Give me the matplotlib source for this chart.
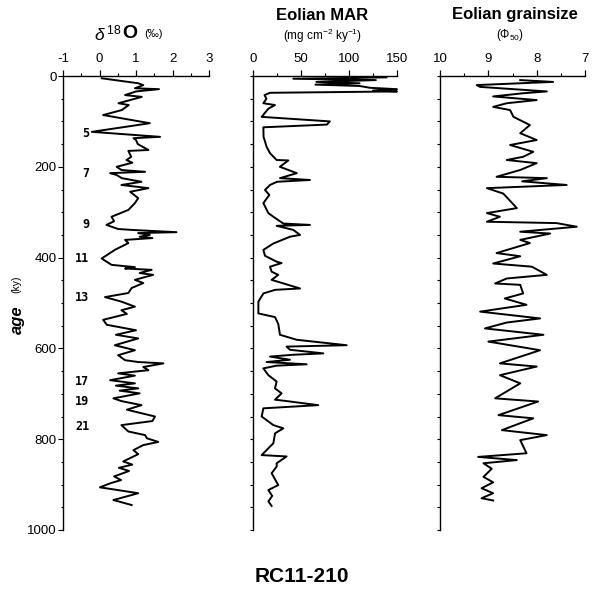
import matplotlib
matplotlib.use('Agg')
import matplotlib.pyplot as plt
from matplotlib.ticker import MultipleLocator

plt.rcParams['font.family'] = ['Liberation Sans', 'DejaVu Sans']
plt.rcParams['mathtext.fontset'] = 'custom'
plt.rcParams['mathtext.rm'] = 'Liberation Sans'
plt.rcParams['mathtext.bf'] = 'Liberation Sans:bold'
plt.rcParams['mathtext.it'] = 'Liberation Sans:italic'
plt.rcParams['axes.unicode_minus'] = False

# oxygen isotope record, age (ky) vs d18O (permil)
d18o_age = [5, 16, 20, 27, 29, 34, 42, 46, 60, 64, 75, 86, 104, 123, 134, 137, 141, 150,
            163, 165, 178, 185, 191, 200, 207, 211, 214, 218, 225, 233, 240, 247, 255, 269,
            280, 295, 310, 320, 328, 337, 339, 344, 346, 350, 354, 357, 361, 368, 383, 402,
            416, 421, 424, 427, 434, 438, 449, 456, 467, 478, 487, 497, 508, 516, 524, 537,
            548, 560, 570, 578, 593, 604, 615, 626, 630, 633, 641, 648, 655, 660, 670, 677,
            682, 688, 693, 699, 710, 716, 725, 735, 750, 760, 769, 783, 791, 798, 806, 813,
            824, 833, 849, 856, 863, 870, 882, 890, 897, 906, 912, 919, 934, 945]
d18o_val = [0.06, 1.06, 1.2, 0.97, 1.63, 1.0, 0.70, 1.16, 0.52, 0.8, 0.61, 0.10, 1.38, -0.21,
            1.66, 0.93, 1.0, 1.05, 1.34, 0.79, 0.87, 0.74, 0.9, 0.47, 0.6, 1.25, 0.29, 0.47,
            0.61, 1.15, 0.6, 1.34, 0.84, 1.06, 0.97, 0.79, 0.33, 0.4, 0.19, 0.51, 0.88, 2.11,
            1.06, 1.38, 1.1, 1.45, 0.7, 0.79, 0.42, 0.06, 0.33, 0.97, 0.70, 1.43, 1.1, 1.47,
            0.97, 1.2, 0.88, 0.79, 0.15, 0.6, 0.97, 0.6, 0.75, 0.10, 0.2, 1.0, 0.45, 1.06,
            0.42, 0.97, 0.51, 0.7, 1.06, 1.75, 1.2, 1.34, 0.51, 0.97, 0.29, 0.97, 0.45, 1.06,
            0.55, 1.1, 0.38, 0.6, 1.15, 0.75, 1.52, 1.45, 0.6, 0.79, 1.25, 1.3, 1.61, 1.2,
            0.93, 1.06, 0.65, 0.9, 0.53, 0.81, 0.40, 0.59, 0.3, 0.01, 0.5, 1.06, 0.38, 0.88]

# eolian mass accumulation rate
mar_age = [3, 6, 9, 13, 16, 19, 22, 26, 29, 32, 34, 37, 42, 50, 60, 64, 72, 90, 100, 107,
           113, 134, 156, 170, 185, 186, 200, 214, 225, 229, 233, 240, 251, 262, 280, 302,
           310, 325, 328, 330, 339, 350, 354, 369, 383, 396, 409, 412, 420, 431, 438, 449,
           468, 471, 479, 497, 523, 531, 546, 570, 581, 593, 596, 603, 611, 614, 618, 625,
           630, 635, 638, 644, 659, 673, 688, 699, 713, 716, 725, 732, 750, 769, 776, 787,
           809, 820, 835, 838, 853, 860, 875, 901, 912, 925, 937, 947]
mar_val = [139, 42, 128, 66, 111, 65, 111, 122, 150, 125, 150, 17.7, 12, 14, 10.8, 22.9, 16,
           9, 80, 77, 10.8, 11, 14.2, 17.7, 24.6, 36.8, 28, 45.6, 28.1, 59.4, 25, 17.7, 12.5,
           17, 10.8, 16, 21.2, 31.6, 59.4, 24.6, 42, 49, 38.5, 21.2, 10.8, 12.5, 24.6, 29.8,
           17.7, 19.4, 26.3, 19.4, 49, 23, 10.8, 5.6, 5.6, 22.9, 26.3, 28.1, 45.5, 97.6, 35,
           38.5, 73.3, 41.9, 17.7, 38.5, 14.2, 55.9, 24.6, 10.8, 16, 24.6, 22.9, 29.8, 22.9,
           35, 68, 10.8, 9, 21.2, 31.6, 23, 21.2, 16, 9, 35, 24.6, 24.7, 19.4, 26.3, 16, 20,
           16, 19.4]

# eolian grain size (phi50)
gs_age = [9, 13, 20, 24, 34, 38, 45, 53, 60, 68, 75, 90, 108, 126, 141, 152, 167, 178, 185,
          192, 207, 222, 225, 232, 240, 247, 259, 291, 302, 310, 321, 324, 332, 343, 347, 361,
          368, 390, 397, 413, 420, 438, 446, 457, 460, 479, 490, 504, 519, 534, 543, 556, 570,
          585, 604, 633, 640, 659, 677, 710, 717, 747, 754, 780, 791, 802, 831, 839, 846, 853,
          865, 883, 895, 908, 919, 930, 935]
gs_val = [8.34, 7.66, 9.24, 9.17, 7.79, 8.28, 8.9, 8.0, 8.62, 8.9, 8.55, 8.48, 8.14, 8.34,
          8.0, 8.55, 8.07, 8.28, 8.62, 8.0, 8.34, 8.83, 7.79, 8.3, 7.38, 9.03, 8.69, 8.41,
          9.03, 8.76, 9.03, 7.59, 7.17, 8.34, 7.72, 8.34, 8.14, 8.83, 8.34, 8.9, 8.1, 7.79,
          8.62, 8.86, 8.34, 8.28, 8.66, 8.21, 9.17, 7.93, 8.62, 9.07, 7.86, 9.0, 7.93, 8.76,
          8.0, 8.76, 8.34, 8.86, 7.97, 8.79, 8.07, 8.72, 7.79, 8.34, 8.21, 9.21, 8.41, 9.10,
          8.93, 9.10, 8.9, 9.14, 8.90, 9.14, 8.9]

# marine isotope stage labels
stage_labels = ['5', '7', '9', '11', '13', '17', '19', '21']
stage_ages = [126, 214, 328, 403, 487, 674, 718, 771]

W, H = 604, 595
fig = plt.figure(figsize=(W / 100, H / 100), dpi=100)
top, bot = 76, 530


def make_ax(left, right):
    ax = fig.add_axes([left / W, 1 - bot / H, (right - left) / W, (bot - top) / H])
    ax.spines['right'].set_visible(False)
    ax.spines['bottom'].set_visible(False)
    for s in ('left', 'top'):
        ax.spines[s].set_linewidth(1.0)
    ax.xaxis.tick_top()
    ax.set_ylim(1000, 0)
    ax.tick_params(axis='x', which='major', direction='out', length=4, width=0.9,
                   pad=4, labelsize=9.5)
    ax.tick_params(axis='x', which='minor', direction='out', length=2.5, width=0.8)
    ax.tick_params(axis='y', which='both', direction='out', length=2.5, width=0.8,
                   pad=1, labelsize=9.5)
    return ax


ax1 = make_ax(63, 209)
ax1.plot(d18o_val, d18o_age, color='black', lw=1.4, clip_on=False)
ax1.set_xlim(-1, 3)
ax1.xaxis.set_major_locator(MultipleLocator(1))
ax1.xaxis.set_minor_locator(MultipleLocator(0.5))
ax1.yaxis.set_major_locator(MultipleLocator(200))
ax1.yaxis.set_minor_locator(MultipleLocator(50))
ax1.tick_params(axis='y', which='major', length=3.5)
ax1.tick_params(axis='y', which='minor', length=1.5)
for lab, a in zip(stage_labels, stage_ages):
    ax1.text(-0.28, a, lab, ha='right', va='center', fontsize=8.5, fontweight='bold',
             family='DejaVu Sans Mono')

ax2 = make_ax(253, 397)
ax2.plot(mar_val, mar_age, color='black', lw=1.4, clip_on=False)
ax2.set_xlim(0, 150)
ax2.xaxis.set_major_locator(MultipleLocator(50))
ax2.xaxis.set_minor_locator(MultipleLocator(25))
ax2.yaxis.set_major_locator(MultipleLocator(50))
ax2.set_yticklabels([])

ax3 = make_ax(440, 585)
ax3.plot(gs_val, gs_age, color='black', lw=1.4, clip_on=False)
ax3.set_xlim(10, 7)
ax3.xaxis.set_major_locator(MultipleLocator(1))
ax3.xaxis.set_minor_locator(MultipleLocator(0.5))
ax3.yaxis.set_major_locator(MultipleLocator(50))
ax3.set_yticklabels([])

# column headings
fig.text(122 / W, 1 - 33 / H, r'$\delta^{\,18}$', fontsize=12.5, ha='right', va='center')
fig.text(122 / W, 1 - 33 / H, 'O', fontsize=14, fontweight='bold', ha='left', va='center')
fig.text(144 / W, 1 - 34 / H, '(‰)', fontsize=8, ha='left', va='center')
fig.text(322 / W, 1 - 15 / H, 'Eolian MAR', fontsize=12, fontweight='bold',
         ha='center', va='center')
fig.text(323 / W, 1 - 36 / H, r'(mg cm$^{-2}$ ky$^{-1}$)', fontsize=8.5,
         ha='center', va='center')
fig.text(515 / W, 1 - 15 / H, 'Eolian grainsize', fontsize=12, fontweight='bold',
         ha='center', va='center')
fig.text(510 / W, 1 - 35 / H, r'($\Phi_{50}$)', fontsize=8.5, ha='center', va='center')

fig.text(17 / W, 1 - 320 / H, 'age', fontsize=12, fontweight='bold', fontstyle='italic',
         rotation=90, ha='center', va='center')
fig.text(16 / W, 1 - 284 / H, '(ky)', fontsize=7.5, rotation=90, ha='center', va='center')

fig.text(302 / W, 1 - 577 / H, 'RC11-210', fontsize=15, fontweight='bold',
         ha='center', va='center')

fig.savefig('out.png', dpi=100)
